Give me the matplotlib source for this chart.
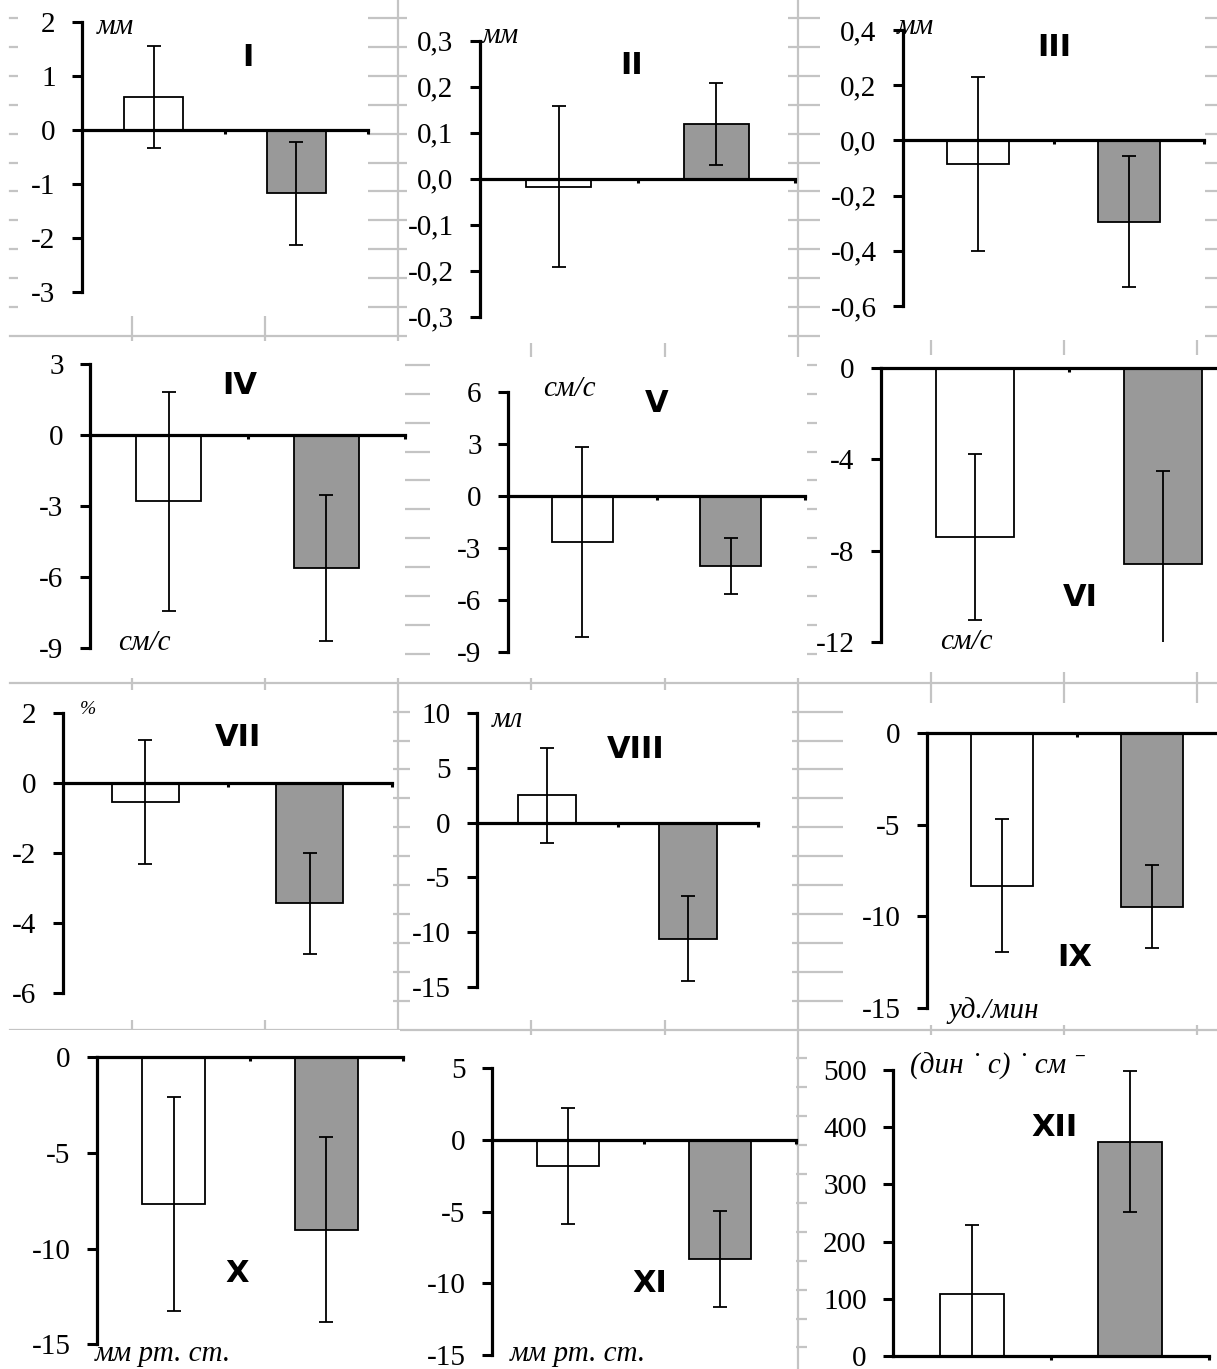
import matplotlib
matplotlib.use("Agg")
import matplotlib.pyplot as plt
from matplotlib.patches import Rectangle
import numpy as np

W, H = 1217, 1369

# ---- data ----
PANELS = ["I", "II", "III", "IV", "V", "VI", "VII", "VIII", "IX", "X", "XI", "XII"]
UNITS = ["мм", "мм", "мм", "см/с", "см/с", "см/с", "%", "мл", "уд./мин",
         "мм рт. ст.", "мм рт. ст.", "(дин ˙ с) ˙ см ˉ"]
WHITE_MEAN = [0.61, -0.018, -0.085, -2.80, -2.67, -7.40, -0.53, 2.50, -8.33, -7.66, -1.81, 108]
WHITE_ERR = [0.94, 0.175, 0.316, 4.62, 5.46, 3.64, 1.78, 4.33, 3.63, 5.60, 4.07, 121]
GREY_MEAN = [-1.18, 0.119, -0.294, -5.62, -4.07, -8.59, -3.43, -10.60, -9.47, -9.00, -8.30, 375]
GREY_ERR = [0.95, 0.090, 0.236, 3.08, 1.62, 4.08, 1.44, 3.87, 2.27, 4.83, 3.35, 124]
Y_MIN = [-3, -0.3, -0.6, -9, -9, -12, -6, -15, -15, -15, -15, 0]
Y_MAX = [2, 0.3, 0.4, 3, 6, 0, 2, 10, 0, 0, 5, 500]
Y_STEP = [1, 0.1, 0.2, 3, 3, 4, 2, 5, 5, 5, 5, 100]
Y_DECIMALS = [0, 1, 1, 0, 0, 0, 0, 0, 0, 0, 0, 0]

# ---- layout in pixels ----
# y-axis x, top y, bottom y, width of one category
AXES_PX = [
    (82, 21.7, 291.7, 143), (480, 40.7, 316.7, 157.5), (903, 30, 306, 150.5),
    (90, 364, 648.3, 157.5), (508, 391.7, 651.7, 148.5), (881, 368.3, 641.7, 188),
    (63, 713.3, 993.3, 164.5), (477, 712.7, 987.3, 140.5), (927, 732.7, 1008.3, 150),
    (97, 1057.3, 1344.3, 153), (492, 1068.3, 1355, 152), (893, 1070, 1356, 158),
]
TITLE_PX = [(248, 57), (632, 65), (1054, 48), (240, 385), (657, 404), (1080, 598),
            (238, 738), (636, 749), (1075, 958), (237, 1274), (650, 1283), (1055, 1128)]
UNIT_PX = [(97, 27), (482, 36), (897, 27), (118, 643), (543, 389), (940, 642),
           (80, 709), (492, 720), (948, 1011), (95, 1354), (510, 1354), (910, 1066)]
CHART_AREAS = [
    (18, 0, 368, 316), (407, 0, 788, 343), (820, 0, 1205, 340),
    (0, 341, 405, 678), (430, 357, 807, 678), (817, 355, 1217, 672),
    (0, 690, 393, 1020), (410, 690, 792, 1020), (843, 703, 1217, 1025),
    (0, 1030, 400, 1369), (400, 1035, 796, 1369), (807, 1035, 1217, 1369),
]

SERIF = "Liberation Serif"
GREY = "#999999"
GRID = "#c4c4c4"

fig = plt.figure(figsize=(W / 100, H / 100), dpi=100)

# spreadsheet cell grid showing through between the charts
bg = fig.add_axes([0, 0, 1, 1])
bg.set_xlim(0, W)
bg.set_ylim(H, 0)
bg.axis("off")
for x in -1 + 133.1 * np.arange(1, 10):
    bg.axvline(x, color=GRID, lw=1.6, zorder=1)
for y in 18 + 28.9 * np.arange(0, 48):
    bg.plot([10, W], [y, y], color=GRID, lw=1.6, zorder=1)
for x0, y0, x1, y1 in CHART_AREAS:
    bg.add_patch(Rectangle((x0, y0), x1 - x0, y1 - y0, facecolor="white",
                           edgecolor="none", zorder=2))

for i, name in enumerate(PANELS):
    ax_x, y_top, y_bot, cat_w = AXES_PX[i]
    left = ax_x / W
    width = 2 * cat_w / W
    bottom = 1 - y_bot / H
    height = (y_bot - y_top) / H
    ax = fig.add_axes([left, bottom, width, height])
    ax.patch.set_visible(False)
    ax.set_xlim(0, 2)
    ax.set_ylim(Y_MIN[i], Y_MAX[i])

    ax.bar([0.5], [WHITE_MEAN[i]], 0.41, color="white", edgecolor="black", lw=1.3, zorder=2)
    ax.bar([1.5], [GREY_MEAN[i]], 0.41, color=GREY, edgecolor="black", lw=1.3, zorder=2)
    ax.errorbar([0.5, 1.5], [WHITE_MEAN[i], GREY_MEAN[i]], yerr=[WHITE_ERR[i], GREY_ERR[i]],
                fmt="none", ecolor="black", elinewidth=1.3, capsize=5, capthick=1.3, zorder=3)

    for side in ("top", "right"):
        ax.spines[side].set_visible(False)
    ax.spines["left"].set_linewidth(2.3)
    ax.spines["bottom"].set_linewidth(2.3)
    ax.spines["bottom"].set_position(("data", 0))

    ticks = np.arange(Y_MIN[i], Y_MAX[i] + Y_STEP[i] / 2, Y_STEP[i])
    ax.set_yticks(ticks)
    d = Y_DECIMALS[i]
    ax.set_yticklabels([f"{t:.{d}f}".replace(".", ",").replace("-0,0", "0,0")
                        if d else f"{round(t):d}" for t in ticks],
                       fontfamily=SERIF, fontsize=21)
    ax.tick_params(axis="y", direction="out", length=7, width=2.2, pad=12)
    ax.set_xticks([1, 2])
    ax.set_xticklabels([])
    ax.tick_params(axis="x", direction="out", length=3, width=2.2)

    tx, ty = TITLE_PX[i]
    fig.text(tx / W, 1 - ty / H, name, ha="center", va="center",
             fontfamily="DejaVu Sans", fontweight="bold", fontsize=22)
    ux, uy = UNIT_PX[i]
    fig.text(ux / W, 1 - uy / H, UNITS[i], ha="left", va="center",
             fontfamily=SERIF, fontstyle="italic", fontsize=14 if UNITS[i] == "%" else 21)

fig.savefig("out.png", dpi=100)
